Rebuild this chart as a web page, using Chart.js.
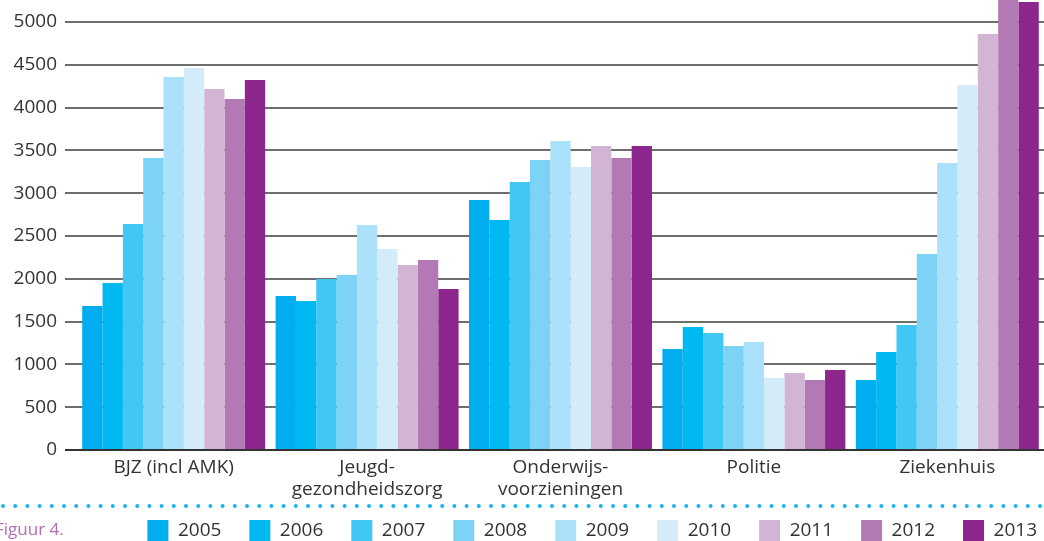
<!DOCTYPE html>
<html>
<head>
<meta charset="utf-8">
<script src="https://cdn.jsdelivr.net/npm/chart.js@4.4.0/dist/chart.umd.min.js"></script>
<style>
    html, body { margin: 0; padding: 0; background: #fff; }
    #wrap { position: relative; width: 1044px; height: 541px; }
</style>
</head>
<body>
<div id="wrap"><canvas id="chart"></canvas></div>
<script>
const categories = ['BJZ (incl AMK)', ['Jeugd-', 'gezondheidszorg'], ['Onderwijs-', 'voorzieningen'], 'Politie', 'Ziekenhuis'];
const years = ['2005', '2006', '2007', '2008', '2009', '2010', '2011', '2012', '2013'];
const yTicks = [0, 500, 1000, 1500, 2000, 2500, 3000, 3500, 4000, 4500, 5000];

const v2005 = [1682, 1799, 2920, 1180, 818];
const v2006 = [1950, 1740, 2686, 1437, 1145];
const v2007 = [2640, 1997, 3130, 1367, 1460];
const v2008 = [3410, 2044, 3387, 1215, 2289];
const v2009 = [4357, 2628, 3609, 1261, 3352];
const v2010 = [4462, 2348, 3305, 841, 4263];
const v2011 = [4217, 2161, 3551, 899, 4859];
const v2012 = [4100, 2219, 3410, 818, 5400];
const v2013 = [4322, 1880, 3551, 934, 5233];

const colors = ['#00adef', '#00b9f2', '#40c7f4', '#7dd3f5', '#abe1fa', '#d4ecf9', '#d2b4d4', '#b379b4', '#8d268c'];
const series = [v2005, v2006, v2007, v2008, v2009, v2010, v2011, v2012, v2013];

const fontFamily = '"Open Sans", sans-serif';
const textColor = '#333333';
const legendPad = 28;

// dotted separator, "Figuur 4." caption, legend nudged to the right edge
const decorations = {
    id: 'decorations',
    afterLayout(chart) {
        const lg = chart.legend;
        const dx = 21;
        const dy = (520 - legendPad) - lg.top;
        lg.left += dx; lg.right += dx;
        lg.top += dy;
        lg.bottom = chart.height + 20;
    },
    afterDraw(chart) {
        const ctx = chart.ctx;
        ctx.save();
        ctx.strokeStyle = '#1ab4ea';
        ctx.lineWidth = 4;
        ctx.lineCap = 'round';
        ctx.setLineDash([0, 12.2]);
        ctx.beginPath();
        ctx.moveTo(3, 506);
        ctx.lineTo(chart.width, 506);
        ctx.stroke();
        ctx.setLineDash([]);
        ctx.fillStyle = '#b36cb2';
        ctx.font = '17px ' + fontFamily;
        ctx.textBaseline = 'middle';
        ctx.fillText('Figuur 4.', -5, 530);
        ctx.restore();
    }
};

new Chart(document.getElementById('chart'), {
    type: 'bar',
    data: {
        labels: categories,
        datasets: years.map((y, i) => ({
            label: y,
            data: series[i],
            backgroundColor: colors[i],
            borderWidth: 0,
            categoryPercentage: 0.946,
            barPercentage: 1.0
        }))
    },
    options: {
        responsive: true,
        maintainAspectRatio: false,
        animation: false,
        layout: { padding: 0 },
        scales: {
            y: {
                min: 0,
                max: 5256,
                afterBuildTicks: (scale) => {
                    scale.ticks = yTicks.map(v => ({ value: v }));
                },
                afterFit: (scale) => {
                    scale.width = 77;
                    scale.paddingTop = 0;
                    scale.paddingBottom = 0;
                },
                border: { display: false },
                grid: {
                    color: (c) => c.tick && c.tick.value === 0 ? '#333333' : '#6e6e6e',
                    lineWidth: 2,
                    tickLength: 12
                },
                ticks: {
                    color: textColor,
                    padding: 8,
                    font: { family: fontFamily, size: 19 },
                    callback: (v) => String(v)
                }
            },
            x: {
                afterFit: (scale) => { scale.height = 55; },
                border: { display: true, color: '#333333', width: 2 },
                grid: { display: false },
                ticks: {
                    color: textColor,
                    padding: -1,
                    maxRotation: 0,
                    autoSkip: false,
                    font: { family: fontFamily, size: 19, lineHeight: 1.16 }
                }
            }
        },
        plugins: {
            legend: {
                position: 'bottom',
                align: 'end',
                maxHeight: 36,
                labels: {
                    color: textColor,
                    boxWidth: 21,
                    boxHeight: 21,
                    padding: legendPad,
                    font: { family: fontFamily, size: 19 }
                }
            },
            tooltip: { enabled: false }
        }
    },
    plugins: [decorations]
});
</script>
</body>
</html>
